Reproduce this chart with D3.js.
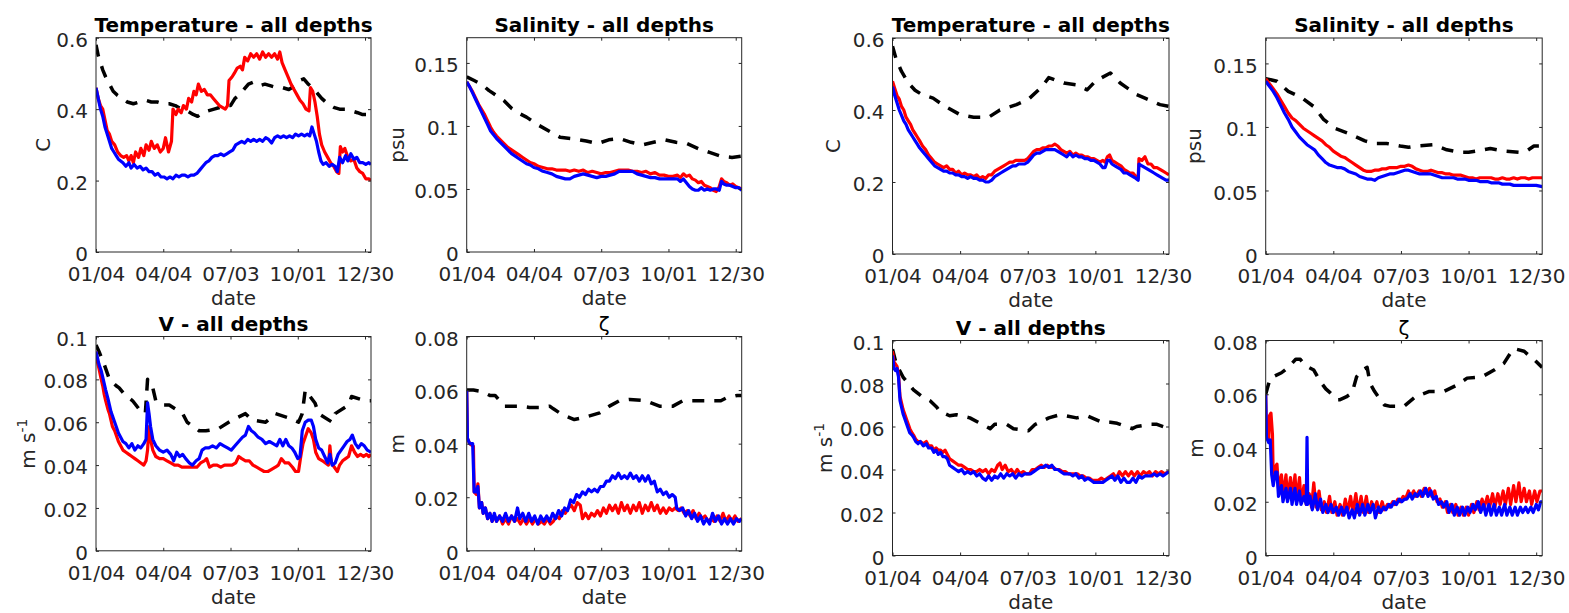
<!DOCTYPE html>
<html>
<head>
<meta charset="utf-8">
<script src="https://cdn.jsdelivr.net/npm/d3@7"></script>
<style>
  body { margin: 0; background: #fff; }
  svg { display: block; }
  svg text { font-family: "DejaVu Sans", sans-serif; }
</style>
</head>
<body>
<svg id="chart" width="1569" height="613"></svg>
<script>
// day offsets from 01/04
const xTickDays = [0, 90, 180, 270, 360];
const xTickLabels = ['01/04', '04/04', '07/03', '10/01', '12/30'];
const xEndDay = 368;

const tTicks = [0, 0.2, 0.4, 0.6];
const tTickLabels = ['0', '0.2', '0.4', '0.6'];
const sTicks = [0, 0.05, 0.1, 0.15];
const sTickLabels = ['0', '0.05', '0.1', '0.15'];
const vTicks = [0, 0.02, 0.04, 0.06, 0.08, 0.1];
const vTickLabels = ['0', '0.02', '0.04', '0.06', '0.08', '0.1'];
const zTicks = [0, 0.02, 0.04, 0.06, 0.08];
const zTickLabels = ['0', '0.02', '0.04', '0.06', '0.08'];

// ---- left group ----
const tL_black = [[0,0.58],[3,0.55],[6,0.53],[9,0.51],[13,0.49],[18,0.47],[23,0.45],[28,0.44],[35,0.43],[42,0.42],[50,0.415],[58,0.42],[66,0.425],[74,0.42],[82,0.42],[90,0.415],[98,0.415],[106,0.41],[114,0.40],[122,0.395],[130,0.385],[136,0.38],[142,0.39],[150,0.395],[158,0.40],[166,0.405],[174,0.41],[180,0.41],[186,0.43],[192,0.44],[198,0.455],[204,0.47],[210,0.475],[218,0.465],[226,0.47],[234,0.465],[242,0.46],[250,0.46],[258,0.455],[266,0.465],[272,0.48],[278,0.485],[284,0.47],[290,0.46],[296,0.445],[302,0.43],[310,0.415],[318,0.405],[326,0.40],[334,0.40],[342,0.395],[350,0.39],[356,0.385],[362,0.385],[368,0.38]];
const tL_red = [[0,0.46],[3,0.43],[6,0.41],[9,0.40],[12,0.37],[15,0.34],[18,0.33],[21,0.31],[25,0.30],[29,0.28],[33,0.27],[37,0.265],[41,0.27],[44,0.255],[47,0.27],[50,0.25],[53,0.28],[57,0.265],[60,0.29],[64,0.27],[67,0.30],[71,0.285],[74,0.31],[78,0.29],[82,0.30],[86,0.28],[90,0.29],[93,0.32],[97,0.28],[101,0.31],[103,0.40],[107,0.385],[110,0.40],[114,0.39],[117,0.41],[121,0.40],[124,0.43],[128,0.42],[131,0.45],[134,0.44],[137,0.47],[141,0.45],[145,0.455],[149,0.44],[153,0.44],[157,0.43],[161,0.42],[165,0.41],[169,0.405],[173,0.40],[176,0.41],[178,0.48],[182,0.49],[185,0.50],[189,0.515],[193,0.52],[196,0.51],[199,0.545],[203,0.535],[207,0.555],[211,0.545],[215,0.555],[219,0.54],[223,0.56],[227,0.545],[231,0.555],[235,0.545],[239,0.555],[243,0.54],[246,0.56],[249,0.53],[253,0.51],[257,0.49],[261,0.47],[265,0.455],[269,0.44],[273,0.425],[277,0.415],[281,0.40],[285,0.395],[287,0.46],[290,0.45],[293,0.42],[296,0.38],[299,0.33],[302,0.30],[306,0.28],[310,0.265],[314,0.25],[318,0.24],[322,0.225],[325,0.22],[327,0.295],[330,0.28],[333,0.29],[337,0.265],[341,0.255],[345,0.26],[349,0.235],[353,0.225],[357,0.22],[361,0.205],[365,0.205],[368,0.20]];
const tL_blue = [[0,0.46],[3,0.43],[6,0.40],[9,0.38],[12,0.35],[15,0.33],[18,0.31],[21,0.29],[24,0.28],[27,0.27],[30,0.26],[33,0.255],[36,0.25],[40,0.24],[44,0.25],[47,0.235],[51,0.245],[55,0.235],[59,0.24],[63,0.23],[67,0.235],[71,0.225],[75,0.225],[79,0.215],[83,0.22],[87,0.21],[91,0.21],[95,0.205],[99,0.21],[103,0.205],[107,0.215],[111,0.21],[115,0.215],[119,0.215],[123,0.21],[127,0.215],[131,0.215],[135,0.22],[139,0.23],[143,0.24],[147,0.25],[151,0.255],[155,0.265],[159,0.27],[163,0.27],[167,0.275],[171,0.27],[175,0.275],[179,0.28],[183,0.285],[187,0.30],[191,0.305],[195,0.31],[199,0.305],[203,0.315],[207,0.31],[211,0.315],[215,0.31],[219,0.315],[223,0.31],[227,0.32],[231,0.315],[235,0.305],[239,0.32],[243,0.325],[247,0.32],[251,0.325],[255,0.32],[259,0.325],[263,0.32],[267,0.33],[271,0.325],[275,0.33],[279,0.325],[283,0.33],[286,0.325],[289,0.35],[292,0.33],[295,0.31],[298,0.28],[301,0.255],[304,0.245],[308,0.25],[312,0.24],[316,0.245],[320,0.24],[323,0.225],[326,0.265],[330,0.25],[334,0.27],[337,0.255],[341,0.275],[345,0.26],[349,0.265],[353,0.25],[357,0.25],[361,0.245],[365,0.25],[368,0.245]];

const sL_black = [[0,0.139],[10,0.136],[20,0.133],[30,0.128],[40,0.124],[50,0.12],[60,0.114],[70,0.11],[80,0.107],[95,0.101],[110,0.096],[125,0.091],[140,0.090],[150,0.089],[160,0.088],[175,0.086],[190,0.089],[205,0.090],[220,0.087],[235,0.085],[250,0.087],[265,0.089],[280,0.087],[295,0.086],[310,0.082],[325,0.079],[340,0.076],[355,0.075],[368,0.076]];
const sL_red = [[0,0.135],[4,0.131],[8,0.127],[12,0.122],[16,0.117],[20,0.113],[24,0.109],[28,0.104],[32,0.099],[36,0.095],[40,0.092],[45,0.089],[50,0.086],[55,0.083],[60,0.081],[65,0.079],[70,0.077],[75,0.075],[80,0.073],[85,0.071],[90,0.07],[96,0.068],[102,0.067],[108,0.066],[114,0.066],[120,0.065],[126,0.065],[132,0.065],[138,0.064],[144,0.065],[150,0.064],[156,0.065],[162,0.063],[168,0.064],[174,0.063],[180,0.062],[186,0.063],[192,0.063],[198,0.064],[204,0.065],[210,0.065],[216,0.065],[222,0.064],[228,0.064],[234,0.063],[240,0.064],[246,0.062],[252,0.063],[258,0.061],[264,0.061],[270,0.060],[276,0.060],[282,0.061],[286,0.059],[290,0.062],[294,0.060],[298,0.061],[302,0.058],[306,0.057],[310,0.055],[314,0.056],[318,0.053],[322,0.052],[326,0.051],[330,0.049],[334,0.048],[338,0.052],[341,0.058],[344,0.056],[348,0.055],[352,0.053],[356,0.054],[360,0.052],[364,0.051],[368,0.050]];
const sL_blue = [[0,0.135],[4,0.131],[8,0.126],[12,0.121],[16,0.116],[20,0.111],[24,0.106],[28,0.101],[32,0.096],[36,0.093],[40,0.090],[45,0.087],[50,0.084],[55,0.081],[60,0.078],[65,0.076],[70,0.074],[75,0.072],[80,0.070],[85,0.069],[90,0.067],[96,0.066],[102,0.064],[108,0.063],[114,0.062],[120,0.060],[126,0.059],[132,0.058],[138,0.058],[144,0.060],[150,0.061],[156,0.062],[162,0.061],[168,0.060],[174,0.059],[180,0.060],[186,0.060],[192,0.061],[198,0.062],[204,0.064],[210,0.064],[216,0.064],[222,0.064],[228,0.062],[234,0.061],[240,0.060],[246,0.059],[252,0.059],[258,0.058],[264,0.058],[270,0.058],[276,0.058],[282,0.058],[286,0.056],[290,0.058],[294,0.055],[298,0.052],[302,0.050],[306,0.049],[310,0.049],[314,0.051],[318,0.049],[322,0.050],[326,0.049],[330,0.050],[334,0.050],[338,0.049],[341,0.056],[344,0.054],[348,0.053],[352,0.053],[356,0.052],[360,0.051],[364,0.051],[368,0.049]];

const vL_black = [[0,0.096],[4,0.093],[11,0.087],[18,0.080],[27,0.077],[31,0.076],[38,0.073],[49,0.070],[58,0.066],[66,0.064],[69,0.080],[76,0.076],[80,0.070],[89,0.068],[98,0.068],[116,0.064],[122,0.060],[138,0.056],[147,0.056],[164,0.057],[182,0.061],[200,0.064],[209,0.061],[227,0.060],[240,0.064],[258,0.062],[271,0.060],[276,0.064],[280,0.075],[293,0.069],[298,0.064],[316,0.060],[320,0.064],[338,0.068],[342,0.072],[360,0.070],[368,0.070]];
const vL_red = [[0,0.093],[2,0.088],[4,0.085],[7,0.080],[9,0.077],[11,0.073],[13,0.070],[16,0.066],[18,0.064],[20,0.061],[22,0.058],[25,0.056],[27,0.054],[30,0.051],[33,0.049],[36,0.047],[40,0.046],[44,0.045],[48,0.044],[52,0.043],[56,0.042],[60,0.041],[64,0.040],[67,0.042],[69,0.047],[71,0.058],[73,0.052],[76,0.047],[80,0.044],[85,0.043],[90,0.043],[95,0.042],[100,0.041],[105,0.040],[110,0.040],[115,0.039],[120,0.039],[125,0.039],[130,0.039],[135,0.039],[140,0.041],[145,0.042],[148,0.043],[152,0.039],[157,0.040],[162,0.040],[167,0.039],[172,0.040],[177,0.040],[182,0.040],[187,0.041],[191,0.044],[195,0.043],[200,0.042],[205,0.042],[210,0.040],[215,0.039],[220,0.038],[225,0.037],[230,0.037],[235,0.038],[240,0.039],[244,0.040],[248,0.043],[253,0.041],[258,0.041],[263,0.039],[267,0.037],[271,0.037],[274,0.044],[277,0.050],[281,0.054],[284,0.057],[288,0.055],[291,0.052],[294,0.046],[298,0.043],[303,0.042],[307,0.041],[311,0.040],[313,0.049],[315,0.041],[319,0.039],[323,0.037],[326,0.040],[330,0.042],[334,0.043],[338,0.044],[342,0.049],[346,0.046],[350,0.044],[354,0.045],[358,0.044],[362,0.045],[365,0.044],[368,0.045]];
const vL_blue = [[0,0.093],[2,0.090],[4,0.087],[7,0.084],[9,0.081],[11,0.078],[13,0.075],[16,0.071],[18,0.068],[20,0.065],[22,0.063],[25,0.060],[27,0.058],[30,0.055],[33,0.053],[36,0.051],[40,0.050],[44,0.048],[48,0.050],[52,0.047],[56,0.049],[60,0.048],[64,0.050],[67,0.052],[69,0.069],[71,0.064],[73,0.058],[76,0.052],[80,0.049],[85,0.047],[90,0.046],[95,0.047],[100,0.045],[104,0.042],[108,0.046],[112,0.044],[116,0.045],[120,0.043],[125,0.041],[129,0.040],[134,0.042],[138,0.043],[142,0.047],[146,0.048],[151,0.048],[156,0.049],[161,0.048],[166,0.050],[171,0.049],[176,0.048],[181,0.047],[186,0.049],[191,0.051],[196,0.053],[200,0.054],[204,0.058],[208,0.056],[212,0.055],[217,0.053],[222,0.052],[227,0.050],[232,0.051],[237,0.050],[242,0.049],[246,0.052],[250,0.049],[254,0.052],[258,0.049],[262,0.048],[266,0.046],[270,0.043],[273,0.044],[276,0.056],[280,0.060],[284,0.061],[288,0.061],[291,0.058],[294,0.052],[298,0.048],[302,0.047],[306,0.044],[310,0.041],[313,0.045],[316,0.040],[320,0.041],[324,0.045],[328,0.047],[332,0.049],[336,0.051],[340,0.052],[343,0.054],[347,0.050],[351,0.048],[355,0.050],[359,0.049],[363,0.047],[368,0.046]];

const zL_black = [[0,0.060],[9,0.060],[20,0.0595],[31,0.058],[38,0.058],[51,0.054],[60,0.054],[73,0.054],[84,0.0535],[98,0.0535],[111,0.054],[116,0.053],[127,0.051],[144,0.049],[160,0.050],[178,0.0515],[191,0.054],[204,0.056],[218,0.0565],[240,0.056],[258,0.054],[276,0.054],[289,0.056],[304,0.056],[313,0.056],[327,0.056],[340,0.056],[347,0.057],[362,0.058],[368,0.058]];
const zL_red = [[0,0.060],[1,0.042],[4,0.040],[9,0.039],[10,0.022],[13,0.021],[15,0.025],[17,0.016],[20,0.018],[22,0.014],[25,0.016],[28,0.012],[31,0.014],[34,0.011],[37,0.013],[40,0.011],[44,0.013],[48,0.010],[52,0.012],[56,0.010],[60,0.013],[64,0.011],[68,0.012],[72,0.010],[76,0.012],[80,0.010],[84,0.012],[88,0.010],[92,0.012],[96,0.010],[100,0.011],[104,0.010],[108,0.012],[112,0.010],[116,0.011],[120,0.013],[124,0.012],[128,0.015],[132,0.014],[136,0.016],[140,0.017],[144,0.015],[148,0.018],[152,0.017],[155,0.012],[159,0.014],[163,0.012],[167,0.014],[171,0.013],[175,0.015],[179,0.013],[183,0.016],[187,0.014],[191,0.017],[195,0.015],[199,0.017],[203,0.014],[207,0.018],[211,0.015],[215,0.017],[219,0.014],[223,0.017],[227,0.015],[231,0.018],[235,0.014],[239,0.017],[243,0.015],[247,0.018],[251,0.015],[255,0.017],[259,0.014],[263,0.016],[267,0.014],[271,0.016],[275,0.015],[279,0.016],[283,0.015],[287,0.016],[291,0.014],[295,0.015],[299,0.013],[303,0.015],[307,0.012],[311,0.014],[315,0.012],[319,0.013],[323,0.011],[327,0.012],[331,0.011],[335,0.013],[339,0.011],[343,0.014],[347,0.011],[351,0.013],[355,0.011],[359,0.013],[363,0.011],[368,0.012]];
const zL_blue = [[0,0.060],[1,0.042],[4,0.040],[8,0.040],[10,0.022],[13,0.022],[15,0.024],[17,0.016],[20,0.018],[22,0.014],[25,0.016],[28,0.012],[31,0.014],[34,0.011],[37,0.014],[40,0.011],[44,0.013],[48,0.011],[52,0.014],[56,0.011],[60,0.013],[64,0.011],[68,0.016],[71,0.012],[75,0.014],[79,0.011],[83,0.014],[87,0.011],[91,0.013],[95,0.010],[99,0.013],[103,0.011],[107,0.013],[111,0.011],[115,0.014],[119,0.012],[123,0.015],[127,0.013],[131,0.016],[135,0.015],[139,0.019],[143,0.018],[147,0.021],[151,0.020],[155,0.022],[159,0.021],[163,0.023],[167,0.022],[171,0.023],[175,0.022],[179,0.024],[183,0.024],[187,0.026],[191,0.026],[195,0.028],[199,0.027],[203,0.029],[207,0.027],[211,0.028],[215,0.027],[219,0.029],[223,0.027],[227,0.028],[231,0.026],[235,0.028],[239,0.026],[243,0.028],[247,0.025],[251,0.026],[255,0.022],[259,0.023],[263,0.021],[267,0.022],[271,0.020],[275,0.021],[279,0.020],[281,0.016],[285,0.015],[289,0.016],[293,0.013],[297,0.015],[301,0.012],[305,0.014],[309,0.011],[313,0.013],[317,0.010],[321,0.012],[325,0.010],[329,0.014],[333,0.011],[337,0.013],[341,0.010],[345,0.012],[349,0.010],[353,0.012],[357,0.010],[361,0.012],[365,0.011],[368,0.012]];

// ---- right group ----
const tR_black = [[0,0.577],[5,0.54],[12,0.507],[21,0.475],[30,0.455],[39,0.443],[54,0.433],[70,0.41],[90,0.387],[108,0.38],[128,0.38],[143,0.40],[165,0.415],[181,0.43],[199,0.465],[208,0.49],[228,0.475],[245,0.47],[259,0.456],[270,0.48],[290,0.503],[303,0.475],[325,0.443],[336,0.433],[356,0.415],[368,0.41]];
const tR_red = [[0,0.48],[3,0.46],[6,0.44],[9,0.43],[12,0.41],[15,0.40],[18,0.38],[21,0.37],[24,0.36],[27,0.345],[30,0.335],[33,0.325],[36,0.315],[40,0.30],[44,0.29],[48,0.275],[52,0.265],[56,0.255],[60,0.25],[64,0.245],[68,0.24],[72,0.245],[76,0.235],[80,0.235],[84,0.225],[88,0.23],[92,0.22],[96,0.225],[100,0.22],[104,0.22],[108,0.215],[112,0.22],[116,0.21],[120,0.215],[124,0.21],[128,0.22],[132,0.22],[136,0.23],[140,0.235],[144,0.24],[148,0.245],[152,0.25],[156,0.255],[160,0.255],[164,0.26],[168,0.26],[172,0.26],[176,0.26],[180,0.265],[184,0.275],[188,0.285],[192,0.29],[196,0.29],[200,0.295],[204,0.295],[208,0.30],[212,0.30],[216,0.305],[220,0.30],[224,0.29],[228,0.285],[232,0.28],[236,0.285],[240,0.275],[244,0.28],[248,0.275],[252,0.275],[256,0.27],[260,0.27],[264,0.265],[268,0.265],[272,0.26],[276,0.255],[280,0.26],[283,0.255],[286,0.27],[289,0.275],[292,0.26],[296,0.255],[300,0.25],[304,0.245],[308,0.235],[312,0.23],[316,0.225],[320,0.225],[324,0.215],[327,0.21],[328,0.265],[332,0.26],[336,0.27],[340,0.25],[344,0.25],[348,0.24],[352,0.24],[356,0.235],[360,0.23],[364,0.225],[368,0.22]];
const tR_blue = [[0,0.465],[3,0.44],[6,0.42],[9,0.40],[12,0.385],[15,0.37],[18,0.36],[21,0.345],[24,0.335],[27,0.325],[30,0.315],[33,0.305],[36,0.295],[40,0.285],[44,0.275],[48,0.265],[52,0.255],[56,0.245],[60,0.24],[64,0.235],[68,0.23],[72,0.23],[76,0.225],[80,0.225],[84,0.22],[88,0.22],[92,0.215],[96,0.215],[100,0.21],[104,0.215],[108,0.21],[112,0.21],[116,0.205],[120,0.205],[124,0.20],[128,0.20],[132,0.205],[136,0.215],[140,0.22],[144,0.225],[148,0.23],[152,0.235],[156,0.24],[160,0.245],[164,0.245],[168,0.25],[172,0.25],[176,0.25],[180,0.255],[184,0.265],[188,0.275],[192,0.28],[196,0.28],[200,0.285],[204,0.29],[208,0.29],[212,0.29],[216,0.29],[220,0.285],[224,0.28],[228,0.275],[232,0.27],[236,0.28],[240,0.27],[244,0.275],[248,0.27],[252,0.27],[256,0.265],[260,0.265],[264,0.26],[268,0.26],[272,0.255],[276,0.25],[280,0.24],[283,0.24],[286,0.26],[289,0.26],[292,0.25],[296,0.245],[300,0.24],[304,0.235],[308,0.225],[312,0.225],[316,0.22],[320,0.215],[324,0.21],[327,0.205],[328,0.25],[332,0.245],[336,0.24],[340,0.235],[344,0.23],[348,0.225],[352,0.22],[356,0.215],[360,0.21],[364,0.205],[368,0.205]];

const sR_black = [[0,0.138],[15,0.136],[30,0.128],[48,0.123],[64,0.116],[77,0.106],[92,0.099],[110,0.095],[121,0.092],[132,0.089],[144,0.087],[161,0.087],[179,0.085],[190,0.084],[201,0.085],[224,0.086],[241,0.082],[259,0.080],[270,0.080],[281,0.081],[299,0.083],[317,0.081],[337,0.080],[347,0.081],[357,0.085],[368,0.085]];
const sR_red = [[0,0.138],[5,0.134],[10,0.130],[15,0.126],[20,0.121],[25,0.116],[30,0.111],[35,0.107],[40,0.105],[45,0.102],[50,0.099],[55,0.097],[60,0.095],[65,0.093],[70,0.091],[75,0.089],[80,0.086],[85,0.084],[90,0.081],[95,0.079],[100,0.077],[105,0.076],[110,0.074],[115,0.072],[120,0.070],[125,0.068],[130,0.066],[135,0.065],[140,0.065],[145,0.066],[150,0.066],[155,0.067],[160,0.067],[165,0.068],[170,0.068],[175,0.068],[180,0.069],[185,0.069],[190,0.070],[195,0.069],[200,0.067],[205,0.066],[210,0.065],[215,0.065],[220,0.066],[225,0.065],[230,0.064],[235,0.064],[240,0.063],[245,0.063],[250,0.062],[255,0.062],[260,0.062],[265,0.061],[270,0.060],[275,0.060],[280,0.059],[285,0.060],[290,0.060],[295,0.060],[300,0.060],[305,0.059],[310,0.059],[315,0.060],[320,0.059],[325,0.059],[330,0.060],[335,0.059],[340,0.060],[345,0.060],[350,0.059],[355,0.060],[360,0.060],[368,0.060]];
const sR_blue = [[0,0.136],[5,0.132],[10,0.128],[15,0.123],[20,0.117],[25,0.111],[30,0.106],[35,0.100],[40,0.096],[45,0.092],[50,0.089],[55,0.086],[60,0.084],[65,0.082],[70,0.078],[75,0.075],[80,0.072],[85,0.070],[90,0.069],[95,0.068],[100,0.068],[105,0.067],[110,0.065],[115,0.064],[120,0.063],[125,0.061],[130,0.060],[135,0.059],[140,0.059],[145,0.058],[150,0.060],[155,0.061],[160,0.062],[165,0.063],[170,0.063],[175,0.064],[180,0.065],[185,0.066],[190,0.066],[195,0.065],[200,0.064],[205,0.063],[210,0.063],[215,0.063],[220,0.063],[225,0.062],[230,0.061],[235,0.060],[240,0.060],[245,0.060],[250,0.060],[255,0.059],[260,0.059],[265,0.059],[270,0.058],[275,0.058],[280,0.058],[285,0.057],[290,0.057],[295,0.057],[300,0.056],[305,0.056],[310,0.056],[315,0.055],[320,0.055],[325,0.055],[330,0.054],[335,0.054],[340,0.054],[345,0.054],[350,0.054],[355,0.054],[360,0.054],[368,0.053]];

const vR_black = [[0,0.096],[5,0.089],[14,0.083],[21,0.080],[28,0.077],[39,0.074],[50,0.072],[59,0.069],[63,0.067],[76,0.065],[85,0.0655],[103,0.064],[114,0.062],[130,0.059],[136,0.061],[152,0.061],[161,0.059],[181,0.058],[190,0.061],[208,0.064],[223,0.0655],[245,0.064],[259,0.065],[279,0.062],[290,0.062],[299,0.0615],[319,0.059],[325,0.060],[343,0.061],[352,0.061],[368,0.059]];
const vR_red = [[0,0.095],[2,0.090],[4,0.089],[6,0.088],[8,0.084],[10,0.074],[12,0.071],[14,0.068],[16,0.066],[19,0.063],[21,0.061],[23,0.059],[26,0.057],[28,0.056],[31,0.054],[34,0.053],[37,0.053],[41,0.052],[45,0.053],[48,0.051],[52,0.051],[55,0.049],[58,0.050],[61,0.049],[64,0.049],[67,0.048],[70,0.049],[73,0.047],[76,0.045],[80,0.044],[84,0.043],[88,0.042],[92,0.042],[96,0.041],[100,0.040],[104,0.040],[108,0.039],[112,0.039],[116,0.040],[120,0.039],[124,0.040],[128,0.038],[132,0.040],[136,0.039],[140,0.042],[143,0.043],[146,0.040],[150,0.042],[154,0.039],[158,0.040],[162,0.038],[166,0.040],[170,0.038],[174,0.039],[178,0.038],[182,0.038],[186,0.040],[190,0.040],[194,0.041],[198,0.042],[202,0.041],[206,0.042],[210,0.041],[214,0.041],[218,0.040],[222,0.040],[226,0.039],[230,0.039],[234,0.038],[238,0.038],[242,0.038],[246,0.038],[250,0.037],[254,0.037],[258,0.036],[262,0.036],[266,0.035],[270,0.035],[274,0.035],[278,0.036],[282,0.035],[286,0.036],[290,0.037],[294,0.038],[298,0.036],[302,0.039],[306,0.037],[310,0.039],[314,0.037],[318,0.039],[322,0.037],[326,0.039],[330,0.037],[334,0.039],[338,0.038],[342,0.039],[346,0.037],[350,0.039],[354,0.038],[358,0.039],[362,0.038],[368,0.039]];
const vR_blue = [[0,0.093],[2,0.087],[4,0.086],[6,0.087],[8,0.083],[10,0.072],[12,0.069],[14,0.066],[16,0.064],[19,0.061],[21,0.059],[23,0.057],[26,0.056],[28,0.055],[31,0.053],[34,0.052],[37,0.053],[41,0.051],[45,0.052],[48,0.050],[52,0.050],[55,0.048],[58,0.049],[61,0.047],[64,0.048],[67,0.046],[70,0.046],[73,0.045],[76,0.042],[80,0.041],[84,0.040],[88,0.039],[92,0.040],[96,0.038],[100,0.039],[104,0.038],[108,0.039],[112,0.037],[116,0.038],[120,0.036],[124,0.035],[128,0.037],[132,0.035],[136,0.037],[140,0.036],[144,0.038],[148,0.036],[152,0.038],[156,0.037],[160,0.038],[164,0.036],[168,0.038],[172,0.037],[176,0.038],[180,0.038],[184,0.038],[188,0.039],[192,0.040],[196,0.041],[200,0.041],[204,0.042],[208,0.041],[212,0.042],[216,0.040],[220,0.040],[224,0.039],[228,0.038],[232,0.038],[236,0.038],[240,0.037],[244,0.038],[248,0.036],[252,0.037],[256,0.035],[260,0.036],[264,0.035],[268,0.034],[272,0.034],[276,0.034],[280,0.034],[284,0.035],[288,0.036],[292,0.037],[296,0.035],[300,0.037],[304,0.034],[308,0.036],[312,0.034],[316,0.034],[320,0.036],[324,0.034],[328,0.037],[332,0.036],[336,0.037],[340,0.037],[344,0.037],[348,0.038],[352,0.037],[356,0.038],[360,0.037],[364,0.038],[368,0.039]];

const zR_black = [[0,0.060],[4,0.064],[6,0.066],[21,0.068],[30,0.070],[40,0.073],[46,0.073],[50,0.0715],[57,0.070],[64,0.069],[72,0.065],[80,0.062],[86,0.0605],[95,0.058],[99,0.058],[107,0.059],[115,0.0605],[121,0.0665],[128,0.069],[135,0.070],[139,0.064],[145,0.061],[150,0.059],[158,0.056],[166,0.0555],[184,0.0555],[199,0.059],[217,0.061],[227,0.061],[237,0.061],[255,0.0635],[268,0.066],[288,0.0665],[304,0.069],[317,0.0715],[325,0.075],[330,0.077],[344,0.076],[352,0.074],[357,0.073],[368,0.070]];
const zR_red = [[0,0.060],[1,0.045],[4,0.043],[5,0.052],[7,0.053],[9,0.045],[10,0.029],[13,0.033],[15,0.034],[17,0.025],[21,0.030],[23,0.022],[27,0.030],[29,0.021],[33,0.029],[35,0.021],[39,0.030],[41,0.020],[45,0.029],[47,0.020],[51,0.026],[54,0.019],[58,0.023],[61,0.018],[64,0.027],[67,0.018],[71,0.024],[74,0.017],[78,0.020],[81,0.016],[85,0.022],[88,0.016],[92,0.020],[95,0.015],[99,0.019],[102,0.015],[106,0.021],[109,0.016],[113,0.022],[116,0.016],[120,0.023],[123,0.016],[127,0.022],[130,0.016],[134,0.022],[137,0.016],[141,0.020],[144,0.017],[148,0.020],[151,0.016],[155,0.020],[158,0.017],[162,0.019],[165,0.018],[169,0.020],[172,0.019],[176,0.021],[179,0.020],[183,0.022],[186,0.021],[190,0.024],[193,0.022],[197,0.024],[200,0.022],[204,0.024],[207,0.022],[211,0.025],[214,0.023],[218,0.025],[221,0.022],[225,0.024],[228,0.020],[232,0.021],[235,0.018],[239,0.020],[242,0.016],[246,0.019],[249,0.016],[253,0.019],[256,0.015],[260,0.018],[263,0.015],[267,0.018],[270,0.015],[274,0.019],[277,0.016],[281,0.020],[284,0.017],[288,0.021],[291,0.018],[295,0.022],[298,0.018],[302,0.023],[305,0.018],[309,0.023],[312,0.019],[316,0.024],[319,0.019],[323,0.025],[326,0.019],[330,0.026],[333,0.020],[337,0.027],[340,0.020],[344,0.025],[347,0.020],[351,0.024],[354,0.019],[358,0.024],[361,0.020],[365,0.024],[368,0.024]];
const zR_blue = [[0,0.060],[1,0.044],[4,0.042],[6,0.043],[8,0.030],[10,0.026],[13,0.031],[15,0.031],[17,0.022],[21,0.026],[23,0.020],[27,0.025],[29,0.020],[33,0.025],[35,0.019],[39,0.025],[41,0.019],[45,0.024],[47,0.019],[51,0.022],[54,0.019],[55,0.044],[56,0.019],[59,0.022],[62,0.017],[66,0.023],[69,0.017],[73,0.021],[76,0.016],[80,0.019],[83,0.016],[87,0.019],[90,0.016],[94,0.018],[97,0.015],[101,0.018],[104,0.015],[108,0.018],[111,0.014],[115,0.017],[118,0.014],[122,0.019],[125,0.015],[129,0.019],[132,0.015],[136,0.019],[139,0.016],[143,0.019],[146,0.014],[150,0.018],[153,0.016],[157,0.018],[160,0.017],[164,0.019],[167,0.018],[171,0.020],[174,0.019],[178,0.021],[181,0.020],[185,0.021],[188,0.021],[192,0.023],[195,0.021],[199,0.023],[202,0.022],[206,0.024],[209,0.022],[213,0.025],[216,0.022],[220,0.024],[223,0.021],[227,0.022],[230,0.019],[234,0.020],[237,0.018],[241,0.020],[244,0.016],[248,0.019],[251,0.015],[255,0.018],[258,0.015],[262,0.018],[265,0.015],[269,0.018],[272,0.016],[276,0.019],[279,0.017],[283,0.020],[286,0.016],[290,0.019],[293,0.015],[297,0.019],[300,0.015],[304,0.019],[307,0.015],[311,0.018],[314,0.015],[318,0.019],[321,0.015],[325,0.018],[328,0.015],[332,0.018],[335,0.015],[339,0.018],[342,0.016],[346,0.018],[349,0.016],[353,0.018],[356,0.016],[360,0.019],[363,0.017],[366,0.020],[368,0.020]];

// ---- layout ----
const START = new Date(2010, 0, 4);
const toDate = d => d3.timeDay.offset(START, d);
const axisColor = '#262626';
const FONT = '"DejaVu Sans", sans-serif';
const seriesStyle = [
  { color: '#000000', dash: '12,10', width: 3.5 },
  { color: '#ff0000', dash: null, width: 3.2 },
  { color: '#0000ff', dash: null, width: 3.2 }
];

const panels = [
  { x: 96,    y: 37.7,  w: 275,   h: 214.3, yMax: 0.6,  ticks: tTicks, labels: tTickLabels, title: 'Temperature - all depths', bold: true, ylab: 'C',   ylabGap: 46,   series: [tL_black, tL_red, tL_blue] },
  { x: 466.7, y: 37.7,  w: 275,   h: 214.3, yMax: 0.17, ticks: sTicks, labels: sTickLabels, title: 'Salinity - all depths',    bold: true, ylab: 'psu', ylabGap: 62.7, series: [sL_black, sL_red, sL_blue] },
  { x: 96,    y: 336.5, w: 275,   h: 214.3, yMax: 0.1,  ticks: vTicks, labels: vTickLabels, title: 'V - all depths',           bold: true, ylab: 'ms',  ylabGap: 61,   series: [vL_black, vL_red, vL_blue] },
  { x: 466.7, y: 336.5, w: 275,   h: 214.3, yMax: 0.08, ticks: zTicks, labels: zTickLabels, title: 'ζ',                        bold: false, ylab: 'm',  ylabGap: 62.7, series: [zL_black, zL_red, zL_blue] },
  { x: 892.5, y: 38,    w: 276.5, h: 216,   yMax: 0.6,  ticks: tTicks, labels: tTickLabels, title: 'Temperature - all depths', bold: true, ylab: 'C',   ylabGap: 52.5, series: [tR_black, tR_red, tR_blue] },
  { x: 1265.7,y: 38,    w: 276.5, h: 216,   yMax: 0.17, ticks: sTicks, labels: sTickLabels, title: 'Salinity - all depths',    bold: true, ylab: 'psu', ylabGap: 64.7, series: [sR_black, sR_red, sR_blue] },
  { x: 892.5, y: 340.5, w: 276.5, h: 215,   yMax: 0.1,  ticks: vTicks, labels: vTickLabels, title: 'V - all depths',           bold: true, ylab: 'ms',  ylabGap: 61,   series: [vR_black, vR_red, vR_blue] },
  { x: 1265.7,y: 340.5, w: 276.5, h: 215,   yMax: 0.08, ticks: zTicks, labels: zTickLabels, title: 'ζ',                        bold: false, ylab: 'm',  ylabGap: 62.4, series: [zR_black, zR_red, zR_blue] }
];

const svg = d3.select('#chart');
const defs = svg.append('defs');

panels.forEach((p, i) => {
  const xScale = d3.scaleTime().domain([toDate(0), toDate(xEndDay)]).range([0, p.w]);
  const yScale = d3.scaleLinear().domain([0, p.yMax]).range([p.h, 0]);
  const g = svg.append('g').attr('transform', `translate(${p.x},${p.y})`);

  defs.append('clipPath').attr('id', 'clip' + i)
    .append('rect').attr('width', p.w).attr('height', p.h);

  const line = d3.line()
    .x(d => xScale(toDate(d[0])))
    .y(d => yScale(d[1]));

  const plot = g.append('g').attr('clip-path', `url(#clip${i})`);
  p.series.forEach((s, k) => {
    plot.append('path')
      .datum(s)
      .attr('d', line)
      .attr('fill', 'none')
      .attr('stroke', seriesStyle[k].color)
      .attr('stroke-width', seriesStyle[k].width)
      .attr('stroke-linejoin', 'round')
      .attr('stroke-dasharray', seriesStyle[k].dash);
  });

  const xDates = xTickDays.map(toDate);
  const xAxis = d3.axisBottom(xScale).tickValues(xDates)
    .tickFormat((d, j) => xTickLabels[j]).tickSizeInner(-3).tickSizeOuter(0).tickPadding(14.8);
  const xTop = d3.axisTop(xScale).tickValues(xDates)
    .tickFormat('').tickSizeInner(-3).tickSizeOuter(0);
  const yAxis = d3.axisLeft(yScale).tickValues(p.ticks)
    .tickFormat((d, j) => p.labels[j]).tickSizeInner(-3).tickSizeOuter(0).tickPadding(8);
  const yRight = d3.axisRight(yScale).tickValues(p.ticks)
    .tickFormat('').tickSizeInner(-3).tickSizeOuter(0);

  const axes = [
    g.append('g').attr('transform', `translate(0,${p.h})`).call(xAxis),
    g.append('g').call(xTop),
    g.append('g').call(yAxis),
    g.append('g').attr('transform', `translate(${p.w},0)`).call(yRight)
  ];
  axes.forEach(a => {
    a.attr('font-family', null).attr('font-size', null);
    a.select('.domain').remove();
    a.selectAll('line').attr('stroke', axisColor);
    a.selectAll('text')
      .attr('fill', axisColor)
      .style('font-family', FONT)
      .style('font-size', '20px');
  });
  axes[2].selectAll('text').attr('dy', '0.43em');

  g.append('rect')
    .attr('width', p.w).attr('height', p.h)
    .attr('fill', 'none').attr('stroke', axisColor).attr('stroke-width', 1);

  g.append('text')
    .attr('x', p.w / 2).attr('y', -6)
    .attr('text-anchor', 'middle')
    .style('font-family', FONT)
    .style('font-size', '20px')
    .style('font-weight', p.bold ? 'bold' : 'normal')
    .attr('fill', '#000')
    .text(p.title);

  g.append('text')
    .attr('x', p.w / 2).attr('y', p.h + 53)
    .attr('text-anchor', 'middle')
    .style('font-family', FONT)
    .style('font-size', '20px')
    .attr('fill', axisColor)
    .text('date');

  const yl = g.append('text')
    .attr('transform', `translate(${-p.ylabGap},${p.h / 2}) rotate(-90)`)
    .attr('text-anchor', 'middle')
    .style('font-family', FONT)
    .style('font-size', '20px')
    .attr('fill', axisColor);
  if (p.ylab === 'ms') {
    yl.append('tspan').text('m s');
    yl.append('tspan').attr('dy', -8).style('font-size', '14px').text('-1');
  } else {
    yl.text(p.ylab);
  }
});
</script>
</body>
</html>
